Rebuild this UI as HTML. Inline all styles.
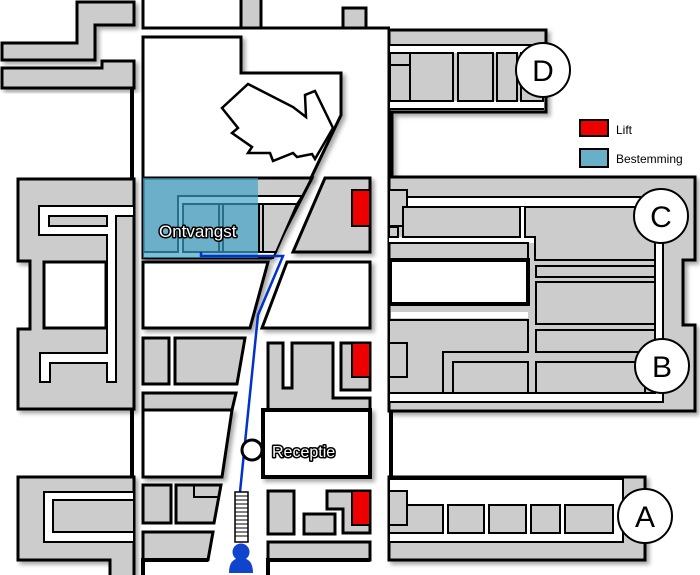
<!DOCTYPE html>
<html><head><meta charset="utf-8"><style>
html,body{margin:0;padding:0;background:#fff;}
svg{display:block;}
text{font-family:"Liberation Sans",sans-serif;}
</style></head><body>
<svg width="700" height="575" viewBox="0 0 700 575" xmlns="http://www.w3.org/2000/svg">
<defs>
<filter id="sh" x="-10%" y="-10%" width="130%" height="130%"><feDropShadow dx="3" dy="3" stdDeviation="2" flood-opacity="0.35"/></filter>
</defs>
<rect width="700" height="575" fill="#fff"/>
<g stroke="#000" stroke-linejoin="miter">
<polygon filter="url(#sh)" points="77,2 134,2 134,25 95,25 95,60 2,60 2,43 77,43" fill="#ccc" stroke-width="3"/>
<polygon filter="url(#sh)" points="2,68 102,68 102,61 134,61 134,88 2,88" fill="#ccc" stroke-width="3"/>
<line x1="132" y1="88" x2="132" y2="180" stroke-width="4"/>
<polygon filter="url(#sh)" points="18,179 134,179 134,409 18,409 18,329 30,329 30,261 18,261" fill="#ccc" stroke-width="3"/>
<rect x="44" y="262" width="62" height="66" fill="#fff" stroke-width="3"/>
<polygon points="39,206 134,206 134,216 116,216 116,382 107,382 107,363 50,363 50,382 40,382 40,353 107,353 107,235 39,235" fill="#fff" stroke-width="2"/>
<rect x="49" y="216" width="58" height="10" fill="#ccc" stroke-width="2"/>
<line x1="132" y1="409" x2="132" y2="477" stroke-width="4"/>
<polygon filter="url(#sh)" points="18,477 134,477 134,577 110,577 110,560 18,560" fill="#ccc" stroke-width="3"/>
<polygon points="44,492 134,492 134,542 44,542" fill="#fff" stroke-width="2"/>
<rect x="53" y="500" width="81" height="32" fill="#ccc" stroke-width="2"/>
<polyline points="143,0 143,28 390,28" fill="none" stroke-width="3"/>
<rect x="241" y="-3" width="20" height="31" fill="#ccc" stroke-width="3"/>
<rect x="343" y="8" width="23" height="20" fill="#ccc" stroke-width="3"/>
<polygon filter="url(#sh)" points="143,37 241,37 241,73 341,73 341,115 311,178 143,178" fill="#fff" stroke-width="3"/>
<polygon points="248,84 293,107 306,117 305,95 315,91 333,128 315,159 312,154 297,157 293,153 273,161 270,153 248,153 252,147 232,133 238,128 222,108" fill="#fff" stroke-width="2.5"/>
<polygon filter="url(#sh)" points="143,178 312,178 271,258 143,258" fill="#ccc" stroke-width="3"/>
<polygon points="178,196 302,196 297,204 183,204 183,252 276,252 273,258 143,258 143,252 178,252" fill="#fff" stroke-width="2"/>
<rect x="183" y="204" width="36" height="48" fill="#ccc" stroke-width="2"/>
<rect x="223" y="204" width="36" height="48" fill="#ccc" stroke-width="2"/>
<polygon points="263,204 297,204 276,252 263,252" fill="#ccc" stroke-width="2"/>
<polygon filter="url(#sh)" points="325,178 370,178 370,252 293,252" fill="#ccc" stroke-width="3"/>
<rect x="352" y="190" width="18" height="36" fill="#e00" stroke-width="2"/>
<polygon filter="url(#sh)" points="143,262 268,262 250,328 143,328" fill="#fff" stroke-width="3"/>
<polygon filter="url(#sh)" points="287,262 370,262 370,328 262,328" fill="#fff" stroke-width="3"/>
<rect x="143" y="338" width="26" height="46" fill="#ccc" stroke-width="3"/>
<polygon points="175,338 245,338 237,384 175,384" fill="#ccc" stroke-width="3"/>
<polygon points="143,393 236,393 232,410 143,410" fill="#ccc" stroke-width="3"/>
<polygon filter="url(#sh)" points="143,410 232,410 222,477 143,477" fill="#fff" stroke-width="3"/>
<polygon points="268,343 283,343 283,388 292,388 292,343 333,343 333,398 370,398 370,410 268,410" fill="#ccc" stroke-width="3"/>
<rect x="341" y="343" width="29" height="47" fill="#ccc" stroke-width="3"/>
<rect x="352" y="343" width="18" height="34" fill="#e00" stroke-width="2"/>
<rect filter="url(#sh)" x="263" y="410" width="107" height="67" fill="#fff" stroke-width="4"/>
<rect x="143" y="485" width="28" height="38" fill="#ccc" stroke-width="3"/>
<polygon points="176,485 221,485 214,523 176,523" fill="#ccc" stroke-width="3"/>
<polyline points="194,485 194,497 220,497" fill="none" stroke-width="2"/>
<polygon points="143,532 213,532 208,560 143,560" fill="#ccc" stroke-width="3"/>
<polyline points="143,577 143,560 208,560" fill="none" stroke-width="4"/>
<rect x="268" y="491" width="26" height="43" fill="#ccc" stroke-width="3"/>
<rect x="304" y="514" width="31" height="20" fill="#ccc" stroke-width="3"/>
<polygon points="327,491 370,491 370,533 343,533 343,509 327,509" fill="#ccc" stroke-width="3"/>
<rect x="352" y="491" width="18" height="34" fill="#e00" stroke-width="2"/>
<rect x="268" y="542" width="102" height="18" fill="#ccc" stroke-width="3"/>
<polyline points="268,577 268,560 370,560" fill="none" stroke-width="4"/>
<polygon filter="url(#sh)" points="390,30 546,30 546,112 392,112 392,178 389,178 389,30" fill="#ccc" stroke-width="3"/>
<rect x="390" y="45" width="156" height="8" fill="#fff" stroke="none"/>
<rect x="390" y="101" width="154" height="8" fill="#fff" stroke="none"/>
<line x1="390" y1="45" x2="544" y2="45" stroke-width="2"/>
<rect x="390" y="53" width="20" height="48" fill="#ccc" stroke-width="2"/>
<line x1="390" y1="65" x2="410" y2="65" stroke-width="2"/>
<rect x="410" y="53" width="43" height="48" fill="#ccc" stroke-width="2"/>
<rect x="458" y="53" width="35" height="48" fill="#ccc" stroke-width="2"/>
<rect x="497" y="53" width="20" height="48" fill="#ccc" stroke-width="2"/>
<rect x="521" y="53" width="22" height="48" fill="#ccc" stroke-width="2"/>
<line x1="390" y1="109" x2="544" y2="109" stroke-width="2"/>
<circle cx="543" cy="70" r="27" fill="#fff" stroke-width="2"/>
<polygon filter="url(#sh)" points="389,177 695,177 695,260 683,260 683,325 695,325 695,411 389,411" fill="#ccc" stroke-width="3"/>
<polygon points="407,197 663,197 663,402 389,402 389,393 655,393 655,207 407,207" fill="#fff" stroke-width="2"/>
<polygon points="520,207 525,207 525,237 535,237 535,243 389,243 389,237 520,237" fill="#fff" stroke="none"/>
<polyline points="389,243 528,243 528,260" fill="none" stroke-width="2"/>
<rect x="389" y="190" width="18" height="36" fill="#ccc" stroke-width="2"/>
<rect x="389" y="227" width="9" height="10" fill="#ccc" stroke-width="2"/>
<polygon points="403,207 520,207 520,237 403,237" fill="#ccc" stroke-width="2"/>
<polygon points="525,207 655,207 655,260 535,260 535,237 525,237" fill="#ccc" stroke-width="2"/>
<rect x="390" y="260" width="138" height="44" fill="#fff" stroke-width="4"/>
<rect x="536" y="266" width="119" height="11" fill="#ccc" stroke-width="2"/>
<rect x="536" y="282" width="119" height="42" fill="#ccc" stroke-width="2"/>
<rect x="391" y="312" width="137" height="6" fill="#fff" stroke="none"/>
<polygon points="389,320 528,320 528,352 443,352 443,393 389,393" fill="#ccc" stroke-width="2"/>
<rect x="389" y="343" width="18" height="34" fill="#ccc" stroke-width="2"/>
<rect x="453" y="362" width="75" height="31" fill="#ccc" stroke-width="2"/>
<rect x="536" y="330" width="119" height="22" fill="#ccc" stroke-width="2"/>
<rect x="536" y="362" width="109" height="31" fill="#ccc" stroke-width="2"/>
<line x1="391" y1="411" x2="391" y2="477" stroke-width="4"/>
<circle cx="661" cy="216" r="27" fill="#fff" stroke-width="2"/>
<circle cx="662" cy="366" r="27" fill="#fff" stroke-width="2"/>
<polygon filter="url(#sh)" points="389,477 645,477 645,560 389,560" fill="#ccc" stroke-width="3"/>
<polygon points="389,479 623,479 623,542 389,542" fill="#fff" stroke-width="2"/>
<rect x="389" y="491" width="18" height="34" fill="#ccc" stroke-width="2"/>
<polygon points="407,505 443,505 443,533 389,533 389,525 407,525" fill="#ccc" stroke-width="2"/>
<rect x="448" y="505" width="36" height="28" fill="#ccc" stroke-width="2"/>
<rect x="489" y="505" width="37" height="28" fill="#ccc" stroke-width="2"/>
<rect x="531" y="505" width="29" height="28" fill="#ccc" stroke-width="2"/>
<rect x="565" y="505" width="48" height="28" fill="#ccc" stroke-width="2"/>
<circle cx="645" cy="516" r="27" fill="#fff" stroke-width="2"/>
</g>
<rect x="143" y="178" width="115" height="80" fill="rgb(60,161,198)" fill-opacity="0.68"/>
<rect x="580" y="120" width="28" height="16" fill="#e00" stroke="#000" stroke-width="2"/>
<rect x="580" y="149" width="28" height="18" fill="#6aafc8" stroke="#000" stroke-width="2"/>
<text x="616" y="134" font-size="12">Lift</text>
<text x="616" y="163" font-size="12">Bestemming</text>
<polyline points="201,252 201,256 283,256 258,315 240,492" fill="none" stroke="#0033cc" stroke-width="2.5"/>
<rect x="235" y="492" width="13" height="50" fill="#fff" stroke="#000" stroke-width="1.5"/>
<g stroke="#000" stroke-width="1">
<line x1="235" y1="496" x2="248" y2="496"/><line x1="235" y1="500" x2="248" y2="500"/><line x1="235" y1="504" x2="248" y2="504"/><line x1="235" y1="508" x2="248" y2="508"/><line x1="235" y1="512" x2="248" y2="512"/><line x1="235" y1="516" x2="248" y2="516"/><line x1="235" y1="520" x2="248" y2="520"/><line x1="235" y1="524" x2="248" y2="524"/><line x1="235" y1="528" x2="248" y2="528"/><line x1="235" y1="532" x2="248" y2="532"/><line x1="235" y1="536" x2="248" y2="536"/>
</g>
<circle cx="241" cy="552" r="8.5" fill="#1144cc"/>
<path d="M229,573 Q229,558 241,558 Q253,558 253,573 Z" fill="#1144cc"/>
<circle cx="252" cy="450" r="10" fill="#fff" stroke="#000" stroke-width="3"/>
<text x="272" y="457" font-size="16" fill="#fff" stroke="#000" stroke-width="3" paint-order="stroke" stroke-linejoin="round">Receptie</text>
<text x="159" y="237" font-size="17" fill="#fff" stroke="#000" stroke-width="3" paint-order="stroke" stroke-linejoin="round">Ontvangst</text>
<g font-size="30" text-anchor="middle">
<text x="543" y="81">D</text>
<text x="661" y="227">C</text>
<text x="662" y="377">B</text>
<text x="645" y="527">A</text>
</g>
</svg>
</body></html>
